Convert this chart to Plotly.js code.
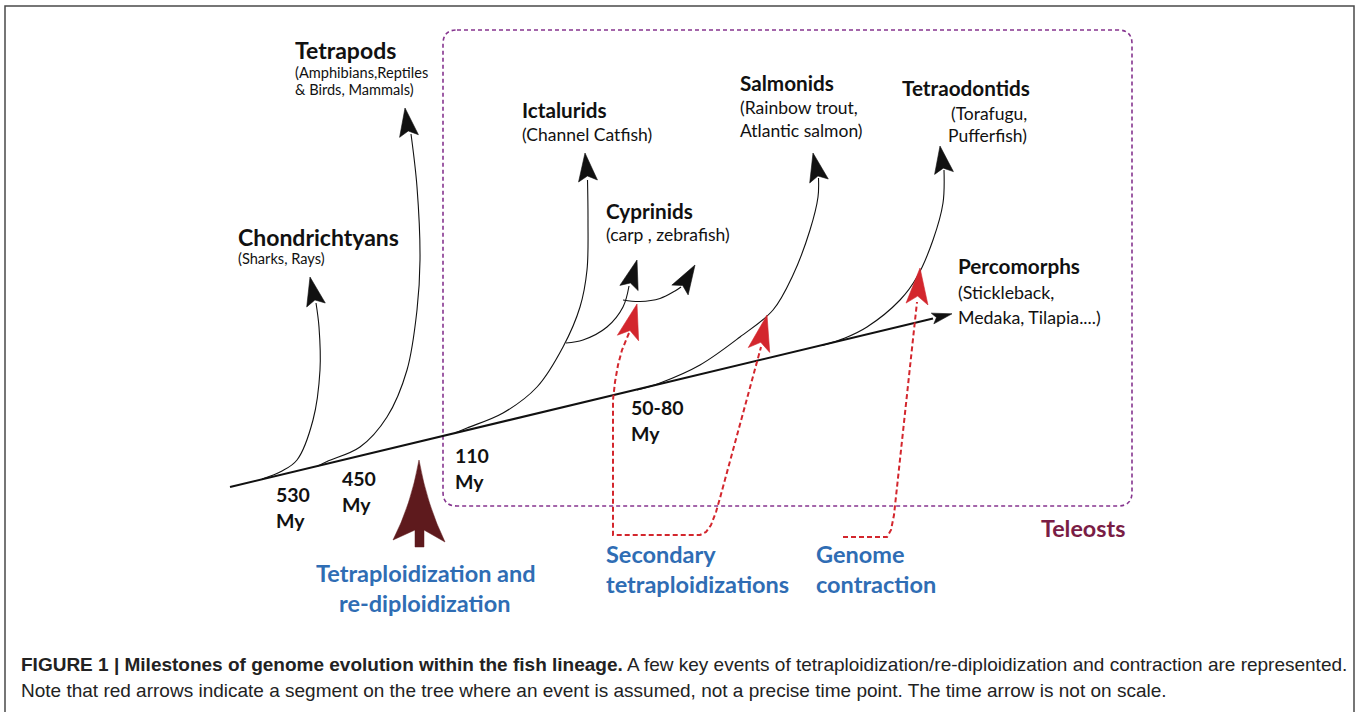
<!DOCTYPE html>
<html>
<head>
<meta charset="utf-8">
<script src="https://cdn.plot.ly/plotly-3.0.1.min.js"></script>
<style>html,body{margin:0;padding:0;background:#fff;}#chart{width:1356px;height:712px;}</style>
</head>
<body>
<div id="chart"></div>
<script>
// ---------- DATA (labels) ----------
const clades = ['Chondrichtyans', 'Tetrapods', 'Ictalurids', 'Cyprinids', 'Salmonids', 'Tetraodontids', 'Percomorphs'];
const cladeExamples = [
  ['(Sharks, Rays)'],
  ['(Amphibians,Reptiles', '& Birds, Mammals)'],
  ['(Channel Catfish)'],
  ['(carp , zebrafish)'],
  ['(Rainbow trout,', 'Atlantic salmon)'],
  ['(Torafugu,', 'Pufferfish)'],
  ['(Stickleback,', 'Medaka, Tilapia....)']
];
const divergenceTimes = ['530', '450', '110', '50-80'];
const timeUnit = 'My';
const eventLabels = [
  ['Tetraploidization and', 're-diploidization'],
  ['Secondary', 'tetraploidizations'],
  ['Genome', 'contraction']
];
const groupLabel = 'Teleosts';
const captionBold = 'FIGURE 1 | Milestones of genome evolution within the fish lineage.';
const captionRest = ' A few key events of tetraploidization/re-diploidization and contraction are represented.';
const captionLine2 = 'Note that red arrows indicate a segment on the tree where an event is assumed, not a precise time point. The time arrow is not on scale.';

// ---------- GEOMETRY (diagram coordinates, 1 unit = 1 px) ----------
const mainAxisX = [230, 933];
const mainAxisY = [487, 318.5];
const mainTip = [952, 313.8];

const branchX = [
  [262, 282, 297, 313, 320, 319, 316],
  [318, 327, 360, 387, 407, 417, 420, 417, 411],
  [455, 467, 503, 537, 563, 580, 587, 588, 587.5],
  [566, 583, 607, 623, 629],
  [623, 640, 660, 675, 681],
  [637, 660, 700, 740, 773, 793, 810, 818, 818.5],
  [822, 845, 867, 900, 917, 933, 943, 944]
];
const branchY = [
  [479, 471, 460, 420, 370, 327, 303],
  [466, 461.5, 447, 417, 370, 310, 260, 187, 134],
  [433, 428, 413, 387, 347, 307, 270, 220, 180],
  [343, 340, 327, 307, 286],
  [300, 301.5, 298.5, 291, 287],
  [390, 383, 365, 337, 310, 275, 230, 197, 178],
  [345.5, 338, 327, 300, 277, 240, 203, 170]
];
// black arrowheads: tip and base (wing midpoint)
const blackTips = [[310, 277], [405, 108], [585, 153], [637, 260], [695, 265], [813, 153], [940, 146]];
const blackBases = [[316, 305], [409, 136], [588, 181], [629, 288], [680, 290], [819, 181], [944, 173]];

// red dashed event paths
const redPathX = [
  [629, 626, 622, 618, 615, 613, 613, 700, 706, 711, 716, 720, 761],
  [843, 887, 891, 894, 917]
];
const redPathY = [
  [333, 340, 350, 365, 382, 400, 535, 535, 532, 525, 512, 498, 347],
  [537, 537, 530, 515, 302]
];
const redTips = [[637, 304], [767, 315], [920, 268]];
const redBases = [[628, 338], [759, 350], [917, 304]];

// ---------- BUILD ----------
const BLACK = '#111111';
const RED = '#d3262d';
const PURPLE = '#86358f';
const BLUE = '#2f6db4';
const MAROON = '#7a1d45';
const DARKRED = '#5e1a1d';
const FONT = 'Lato, "Open Sans", sans-serif';

function stealth(tip, base, hw, notchFrac, color) {
  const dx = tip[0] - base[0], dy = tip[1] - base[1];
  const L = Math.hypot(dx, dy), ux = dx / L, uy = dy / L;
  const nx = -uy, ny = ux;
  const w1 = [base[0] + nx * hw, base[1] + ny * hw];
  const w2 = [base[0] - nx * hw, base[1] - ny * hw];
  const n = [tip[0] - ux * L * notchFrac, tip[1] - uy * L * notchFrac];
  return {
    type: 'path', xref: 'x', yref: 'y',
    path: `M${tip[0]},${tip[1]} L${w1[0]},${w1[1]} L${n[0]},${n[1]} L${w2[0]},${w2[1]} Z`,
    fillcolor: color, line: {color: color, width: 0.6}, layer: 'above'
  };
}

const traces = [];
traces.push({x: mainAxisX, y: mainAxisY, mode: 'lines', line: {color: BLACK, width: 2}, hoverinfo: 'skip'});
branchX.forEach((bx, i) => {
  traces.push({x: bx, y: branchY[i], mode: 'lines', line: {color: BLACK, width: 1.1, shape: 'spline', smoothing: 1}, hoverinfo: 'skip'});
});
redPathX.forEach((rx, i) => {
  traces.push({x: rx, y: redPathY[i], mode: 'lines', line: {color: RED, width: 2, dash: '5px,3px'}, hoverinfo: 'skip'});
});

const shapes = [];
// frame
shapes.push({type: 'path', xref: 'x', yref: 'y', path: 'M5,712 L5,6 L1354,6 L1354,712', line: {color: '#4a4a4a', width: 1.5}});
// teleost box (rounded)
const bx0 = 443, bx1 = 1132, by0 = 30, by1 = 506, r = 14;
shapes.push({type: 'path', xref: 'x', yref: 'y',
  path: `M${bx0 + r},${by0} L${bx1 - r},${by0} Q${bx1},${by0} ${bx1},${by0 + r} L${bx1},${by1 - r} Q${bx1},${by1} ${bx1 - r},${by1} L${bx0 + r},${by1} Q${bx0},${by1} ${bx0},${by1 - r} L${bx0},${by0 + r} Q${bx0},${by0} ${bx0 + r},${by0} Z`,
  line: {color: PURPLE, width: 1.6, dash: '4px,3px'}, layer: 'below'});
// arrowheads
shapes.push(stealth(mainTip, [mainTip[0] - 20 * 0.972, mainTip[1] + 20 * 0.234], 5.5, 0.8, BLACK));
blackTips.forEach((t, i) => shapes.push(stealth(t, blackBases[i], 9.5, 0.82, BLACK)));
redTips.forEach((t, i) => shapes.push(stealth(t, redBases[i], 11, 0.78, RED)));
// big tetraploidization arrow
shapes.push({type: 'path', xref: 'x', yref: 'y',
  path: 'M419,460 Q427,505 445,542 L424,530 L424,547 L415,547 L415,530 L393,540 Q411,505 419,460 Z',
  fillcolor: DARKRED, line: {color: DARKRED, width: 0.5}});

const annotations = [];
function txt(x, y, text, size, color, bold, anchor, family) {
  annotations.push({x: x, y: y, xref: 'x', yref: 'y', text: bold ? '<b>' + text + '</b>' : text,
    showarrow: false, xanchor: anchor || 'left', yanchor: 'middle', borderpad: 0, borderwidth: 0,
    font: {family: family || FONT, size: size, color: color}});
}
// clade titles and examples
const titlePos = [[238, 237], [295, 50], [522, 110], [606, 211], [740, 83], [902, 88], [958, 266]];
const titleSize = [23, 23, 20.7, 20.7, 20.7, 20.7, 20.7];
const exPos = [
  [[238, 258]],
  [[295, 72], [295, 89]],
  [[522, 134]],
  [[606, 234]],
  [[740, 107], [740, 130]],
  [[1027, 113, 'right'], [1027, 135, 'right']],
  [[958, 292], [958, 317]]
];
const exSize = [14.6, 14.6, 17.5, 17.5, 17.5, 17.5, 17.8];
clades.forEach((c, i) => {
  txt(titlePos[i][0], titlePos[i][1], c, titleSize[i], BLACK, true);
  cladeExamples[i].forEach((e, j) => {
    const p = exPos[i][j];
    txt(p[0], p[1], e, exSize[i], BLACK, false, p[2]);
  });
});
// divergence times
const timePos = [[276, 494], [342, 478], [455, 455], [631, 407]];
divergenceTimes.forEach((t, i) => {
  txt(timePos[i][0], timePos[i][1], t, 19.5, BLACK, true);
  txt(timePos[i][0], timePos[i][1] + 26, timeUnit, 19.5, BLACK, true);
});
// events
txt(426, 573, eventLabels[0][0], 23.5, BLUE, true, 'center');
txt(424, 603, eventLabels[0][1], 23.5, BLUE, true, 'center');
txt(606, 554, eventLabels[1][0], 23.5, BLUE, true);
txt(606, 584, eventLabels[1][1], 23.5, BLUE, true);
txt(816, 554, eventLabels[2][0], 23.5, BLUE, true);
txt(816, 584, eventLabels[2][1], 23.5, BLUE, true);
txt(1041, 528, groupLabel, 23.3, MAROON, true);
// caption
const CAP = '"Liberation Sans Narrow", "Liberation Sans", Arial, sans-serif';
txt(21, 664, '<b>' + captionBold + '</b>' + captionRest, 19, '#222222', false, 'left', CAP);
txt(21, 690, captionLine2, 19, '#222222', false, 'left', CAP);

const layout = {
  width: 1356, height: 712, autosize: false,
  margin: {l: 0, r: 0, t: 0, b: 0, pad: 0},
  paper_bgcolor: '#ffffff', plot_bgcolor: '#ffffff',
  showlegend: false,
  xaxis: {range: [0, 1356], visible: false, fixedrange: true},
  yaxis: {range: [712, 0], visible: false, fixedrange: true},
  shapes: shapes, annotations: annotations
};
Plotly.newPlot('chart', traces, layout, {staticPlot: true, displayModeBar: false});
</script>
</body>
</html>
